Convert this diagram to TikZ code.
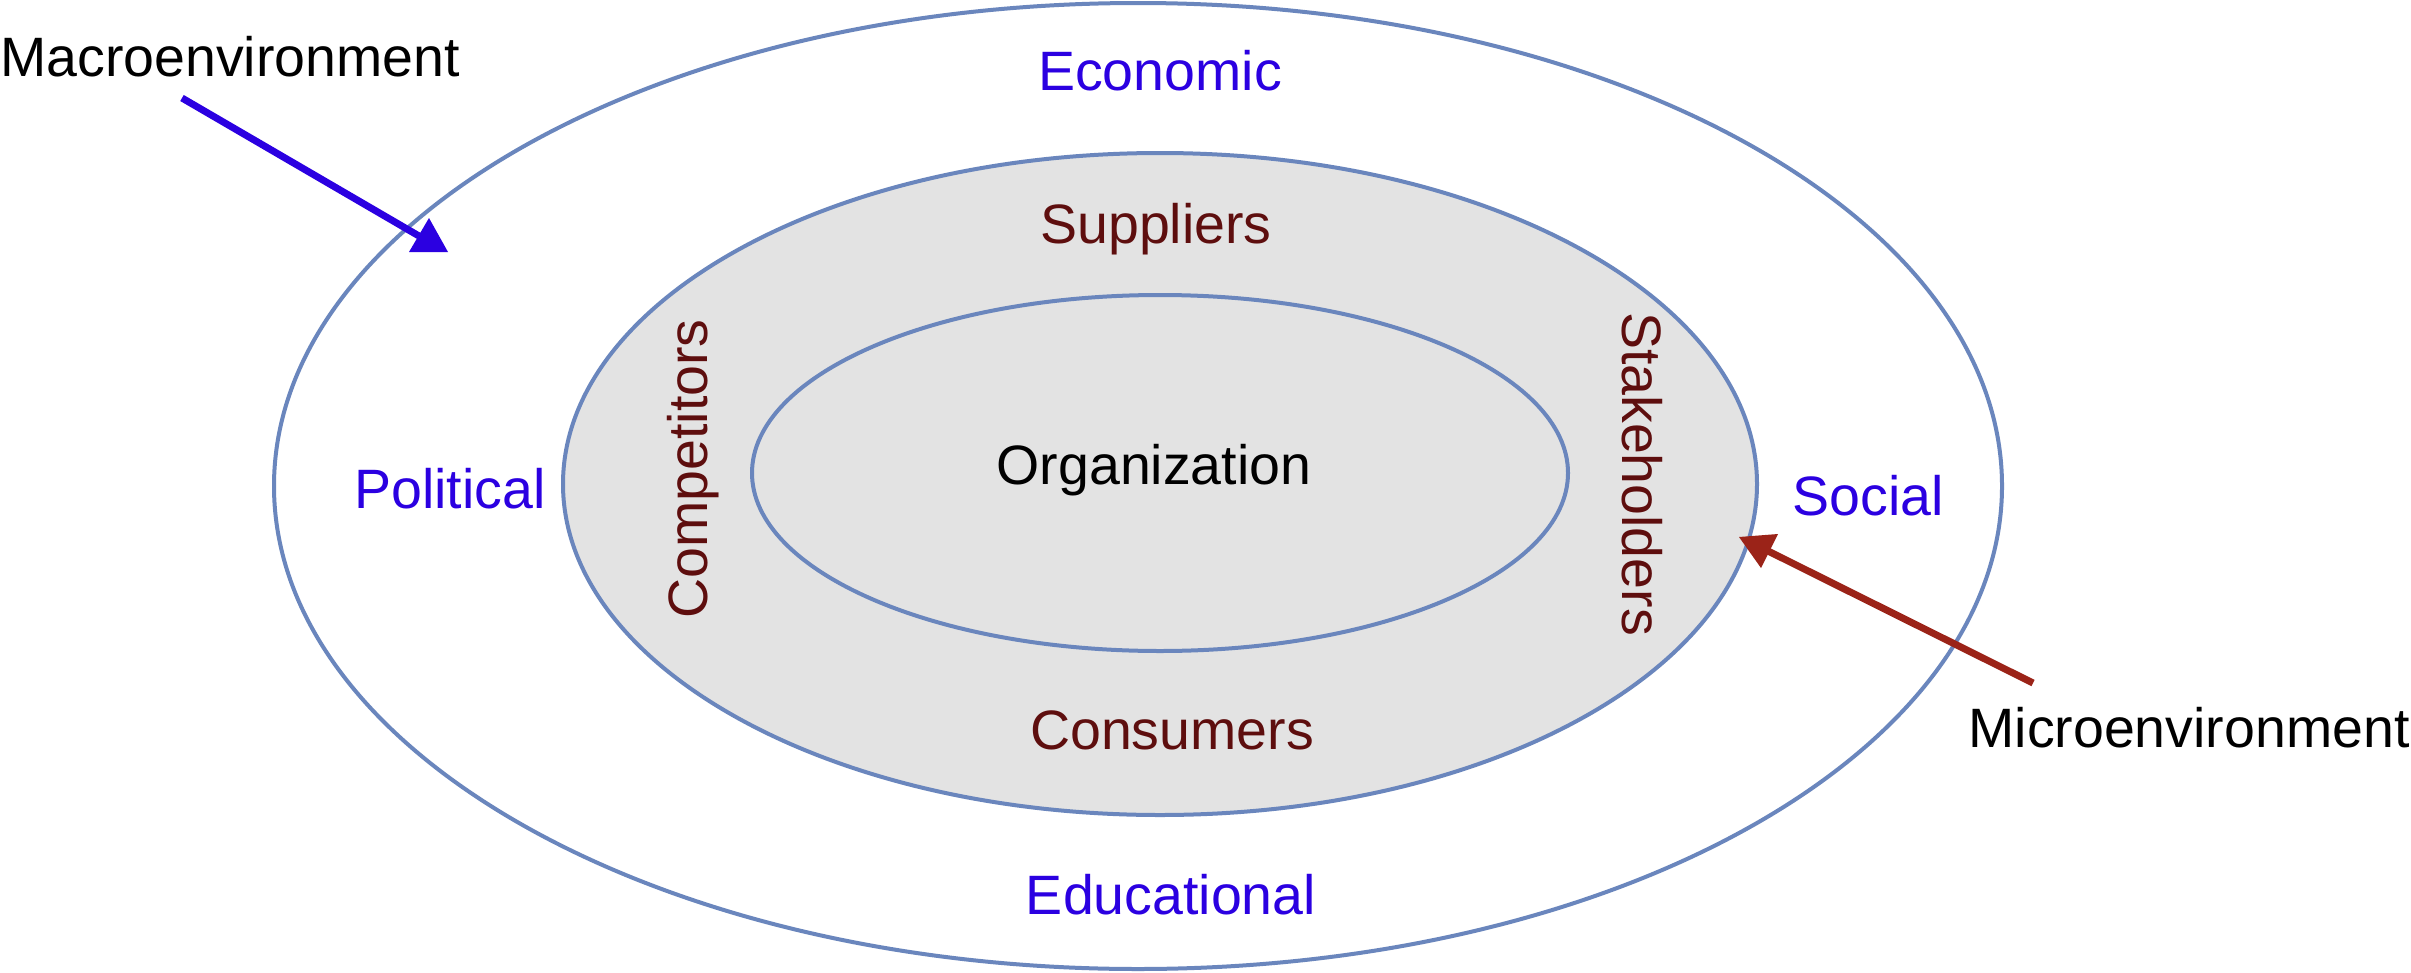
\documentclass[tikz,border=0pt]{standalone}
\usepackage{fontspec}
\setmainfont{Liberation Sans}
\definecolor{ringc}{HTML}{6A86BD}
\definecolor{fillgray}{HTML}{E3E3E3}
\definecolor{macroc}{RGB}{43,0,225}
\definecolor{microc}{RGB}{94,14,14}
\definecolor{microarrowc}{RGB}{155,35,24}
\begin{document}
\begin{tikzpicture}[x=1pt,y=-1pt,
  ring/.style={draw=ringc, line width=4pt},
  lbl/.style={font=\fontsize{55.5}{60}\selectfont, inner sep=0pt, anchor=base},
  macrolbl/.style={lbl, text=macroc},
  microlbl/.style={lbl, text=microc},
  blacklbl/.style={lbl, text=black},
  ptr/.style={line width=7pt}
]
\useasboundingbox (0,0) rectangle (2411,972);
\fill[white] (0,0) rectangle (2411,972);
% rings
\coordinate (cO) at (1138,486);
\coordinate (cM) at (1160,484);
\coordinate (cI) at (1160,473);
\draw[ring] (cO) ellipse [x radius=864, y radius=483];
\draw[ring, fill=fillgray] (cM) ellipse [x radius=597, y radius=331];
\draw[ring, fill=fillgray] (cI) ellipse [x radius=408, y radius=178];
% labels
\node[blacklbl] (macro) at (230,76) {Macroenvironment};
\node[macrolbl] (econ) at (1160,90) {Economic};
\node[microlbl] (supp) at (1156,243) {Suppliers};
\node[blacklbl] (org) at (1154,484) {Organization};
\node[macrolbl] (pol) at (450,508) {Political};
\node[macrolbl] (soc) at (1868,515) {Social};
\node[microlbl] (cons) at (1172,749) {Consumers};
\node[macrolbl] (edu) at (1171,914) {Educational};
\node[blacklbl] (micro) at (2189,747) {Microenvironment};
\node[microlbl, rotate=90] (comp) at (707,469) {Competitors};
\node[microlbl, rotate=-90] (stake) at (1622,474) {Stakeholders};
% macro arrow
\coordinate (ma0) at (182,98);
\coordinate (ma1) at (419,236);
\coordinate (mah1) at (409,252);
\coordinate (mah2) at (448,252);
\coordinate (mah3) at (429,218);
\draw[ptr, macroc] (ma0) -- (ma1);
\fill[macroc] (mah1) -- (mah2) -- (mah3) -- cycle;
% micro arrow
\coordinate (mi0) at (2033,683);
\coordinate (mi1) at (1764,549);
\coordinate (mih1) at (1739,537);
\coordinate (mih2) at (1778,534);
\coordinate (mih3) at (1761,568);
\draw[ptr, microarrowc] (mi0) -- (mi1);
\fill[microarrowc] (mih1) -- (mih2) -- (mih3) -- cycle;
\end{tikzpicture}
\end{document}
